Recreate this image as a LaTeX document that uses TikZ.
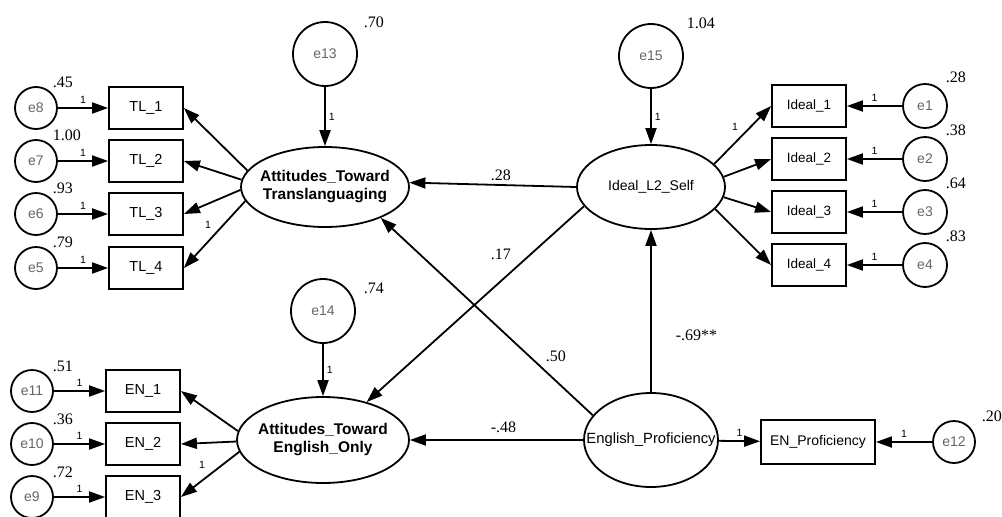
\documentclass[tikz,border=0pt]{standalone}
\usepackage{fontspec}
\setmainfont{Liberation Sans}
\newfontfamily\numfont{Liberation Serif}
\usetikzlibrary{arrows.meta,shapes.geometric}
% zero-width box so that long labels do not enlarge the ellipses
\newcommand\zw[1]{\makebox[0pt]{#1}}
\begin{document}
\begin{tikzpicture}[x=1pt,y=-1pt,line width=1.8pt,
  obs/.style={draw,rectangle,minimum width=74pt,minimum height=42pt,inner sep=0pt,
    font=\fontsize{14.5}{16}\selectfont},
  err/.style={draw,circle,minimum size=42pt,inner sep=0pt,text=black!60,
    font=\fontsize{14}{15}\selectfont},
  dist/.style={err,minimum size=64pt},
  lat/.style={draw,ellipse,inner sep=0pt,align=center},
  bigtext/.style={font=\bfseries\fontsize{15.5}{18}\selectfont},
  arr/.style={-{Triangle[length=16pt,width=11pt]}},
  one/.style={font=\fontsize{10.5}{11}\selectfont,inner sep=0pt},
  est/.style={font=\numfont\fontsize{16}{17}\selectfont,inner sep=0pt,anchor=base west},
]
\useasboundingbox (0,0) rectangle (1002,517);

% latent variables
\node[lat,bigtext,minimum width=168pt,minimum height=80pt] (tl) at (325,187)
  {\zw{Attitudes\_Toward}\\\zw{Translanguaging}};
\node[lat,bigtext,minimum width=172pt,minimum height=86pt] (eo) at (323,440)
  {\zw{Attitudes\_Toward}\\\zw{English\_Only}};
\node[lat,minimum width=148pt,minimum height=84pt,font=\fontsize{14}{15}\selectfont] (ideal) at (651,187)
  {\zw{Ideal\_L2\_Self}};
\node[lat,minimum width=134pt,minimum height=94pt,font=\fontsize{14.8}{15}\selectfont] (ep) at (651,440)
  {\zw{English\_Proficiency}};

% disturbances
\node[dist] (e13) at (325,54) {e13};
\node[dist] (e14) at (323,311) {e14};
\node[dist] (e15) at (651,56) {e15};
\draw[arr] (e13) -- node[one,right=3pt] (o13) {1} (tl);
\draw[arr] (e14) -- node[one,right=3pt] (o14) {1} (eo);
\draw[arr] (e15) -- node[one,right=3pt] (o15) {1} (ideal);
\node[est] (v13) at (363,27) {.70};
\node[est] (v14) at (363,293) {.74};
\node[est] (v15) at (686,28) {1.04};

% translanguaging indicators
\foreach \n/\e/\y/\v/\a in {1/8/108/.45/168, 2/7/161/1.00/175, 3/6/214/.93/182, 4/5/268/.79/190}{
  \node[obs] (tl\n) at (146,\y) {TL\_\n};
  \node[err] (e\e) at (36,\y) {e\e};
  \draw[arr] (e\e) -- node[one,above=4pt] (o\e) {1} (tl\n);
  \draw[arr] (tl.\a) -- (tl\n.east);
  \node[est] (v\e) at (52,\y-21) {\v};
}
\node[one] (l4) at (208,225) {1};

% english-only indicators
\foreach \n/\e/\y/\v/\a in {1/11/391/.51/174, 2/10/444/.36/181, 3/9/497/.72/188}{
  \node[obs] (en\n) at (143,\y) {EN\_\n};
  \node[err] (e\e) at (32,\y) {e\e};
  \draw[arr] (e\e) -- node[one,above=4pt] (o\e) {1} (en\n);
  \draw[arr] (eo.\a) -- (en\n.east);
  \node[est] (v\e) at (52,\y-20) {\v};
}
\node[one] (l3) at (202,465) {1};

% ideal self indicators
\foreach \n/\y/\v/\a in {1/106/.28/20, 2/159/.38/8, 3/212/.64/352, 4/265/.83/341}{
  \node[obs,font=\fontsize{13.5}{15}\selectfont] (id\n) at (809,\y) {Ideal\_\n};
  \node[err,minimum size=44pt] (e\n) at (925,\y) {e\n};
  \draw[arr] (e\n) -- node[one,above=4pt] (oi\n) {1} (id\n);
  \draw[arr] (ideal.\a) -- (id\n.west);
  \node[est] (vi\n) at (945,\y-24) {\v};
}
\node[one] (l1) at (735,127) {1};

% proficiency indicator
\node[obs,minimum width=114pt,minimum height=44pt,font=\fontsize{14}{15}\selectfont] (enp) at (818,442) {EN\_Proficiency};
\node[err,minimum size=42pt] (e12) at (954,442) {e12};
\draw[arr] (ep) -- node[one,above=4pt] (oep) {1} (enp);
\draw[arr] (e12) -- node[one,above=4pt] (o12) {1} (enp);
\node[est] (v12) at (981,421) {.20};

% structural paths
\draw[arr] (ideal.west) -- (tl.3);
\draw[arr] (ideal.196) -- (eo.41);
\draw[arr] (ep.157) -- (tl.331);
\draw[arr] (ep.west) -- (eo.east);
\draw[arr] (ep.north) -- (ideal.south);
\node[est] (p1) at (490,180) {.28};
\node[est] (p2) at (490,259) {.17};
\node[est] (p3) at (545,361) {.50};
\node[est] (p4) at (490,432) {-.48};
\node[est] (p5) at (675,340) {-.69**};
\end{tikzpicture}
\end{document}
